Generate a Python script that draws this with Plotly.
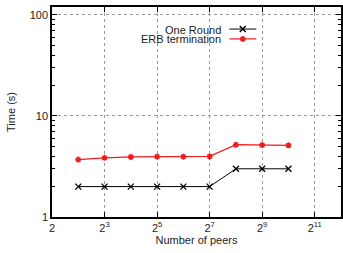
import plotly.graph_objects as go
import math

peers = [4, 8, 16, 32, 64, 128, 256, 512, 1024]
one_round = [2, 2, 2, 2, 2, 2, 3, 3, 3]
erb_termination = [3.7, 3.85, 3.93, 3.96, 3.96, 3.98, 5.2, 5.15, 5.12]
series_names = ["One Round", "ERB termination"]
x_tickvals = [2, 8, 32, 128, 512, 2048]
x_ticktext = ["2", "2<sup>3</sup>", "2<sup>5</sup>", "2<sup>7</sup>", "2<sup>9</sup>", "2<sup>11</sup>"]
y_tickvals = [1, 10, 100]
y_ticktext = ["1", "10", "100"]

black = "#000000"
red = "#ee1c1c"
font = "Liberation Sans, Arial, Helvetica, sans-serif"

fig = go.Figure()
fig.add_trace(go.Scatter(x=peers, y=one_round, mode="lines+markers", name=series_names[0],
                         line=dict(color=black, width=1),
                         marker=dict(symbol="x-thin-open", size=6, color=black, line=dict(width=1.3, color=black)),
                         showlegend=False))
fig.add_trace(go.Scatter(x=peers, y=erb_termination, mode="lines+markers", name=series_names[1],
                         line=dict(color=red, width=1.2),
                         marker=dict(symbol="asterisk-open", size=5, color=red, line=dict(width=1.6, color=red)),
                         showlegend=False))

# legend samples (gnuplot style: text, then line sample to the right)
leg_y = [0.895, 0.848]
leg_colors = [black, red]
leg_symbols = ["x-thin-open", "asterisk-open"]
leg_sizes = [6, 5]
for i in range(2):
    fig.add_trace(go.Scatter(x=[0.614, 0.707], y=[leg_y[i], leg_y[i]], mode="lines",
                             line=dict(color=leg_colors[i], width=1.2 if i else 1),
                             xaxis="x2", yaxis="y2", showlegend=False, hoverinfo="skip"))
    fig.add_trace(go.Scatter(x=[0.66], y=[leg_y[i]], mode="markers",
                             marker=dict(symbol=leg_symbols[i], size=leg_sizes[i], color=leg_colors[i],
                                         line=dict(width=1.5, color=leg_colors[i])),
                             xaxis="x2", yaxis="y2", showlegend=False, hoverinfo="skip"))
    fig.add_annotation(x=0.592, y=leg_y[i], xref="paper", yref="paper", text=series_names[i],
                       showarrow=False, xanchor="right", yanchor="middle", height=9, valign="middle",
                       font=dict(family=font, size=11, color="#222"))

minor_y = [v * m for v in [1, 10] for m in range(2, 10)]

fig.update_layout(
    width=343, height=253,
    margin=dict(l=52, r=0, t=7, b=36),
    paper_bgcolor="white", plot_bgcolor="white",
    font=dict(family=font, size=11, color="#222"),
    xaxis=dict(type="log", range=[math.log10(2), math.log10(4096)],
               tickvals=x_tickvals, ticktext=x_ticktext,
               ticks="inside", ticklen=5, tickcolor=black,
               showline=True, linecolor=black, linewidth=1.5, mirror="allticks",
               showgrid=True, gridcolor="#999", griddash="dot", gridwidth=1,
               zeroline=False,
               title=dict(text="Number of peers", font=dict(size=11), standoff=3),
               tickfont=dict(size=11)),
    yaxis=dict(type="log", range=[0, 2.079],
               tickvals=y_tickvals, ticktext=y_ticktext,
               ticks="inside", ticklen=5, tickcolor=black,
               showline=True, linecolor=black, linewidth=1.5, mirror="allticks",
               showgrid=True, gridcolor="#999", griddash="dot", gridwidth=1,
               zeroline=False,
               minor=dict(tickvals=minor_y, ticks="inside", ticklen=3, tickcolor=black, showgrid=False),
               title=dict(text="Time (s)", font=dict(size=11), standoff=12),
               tickfont=dict(size=11)),
    xaxis2=dict(overlaying="x", range=[0, 1], visible=False, domain=[0, 1]),
    yaxis2=dict(overlaying="y", range=[0, 1], visible=False, domain=[0, 1]),
)

fig.write_html("out.html", config={"displayModeBar": False},
               post_script="document.body.style.margin='0';document.body.style.overflow='hidden';")
